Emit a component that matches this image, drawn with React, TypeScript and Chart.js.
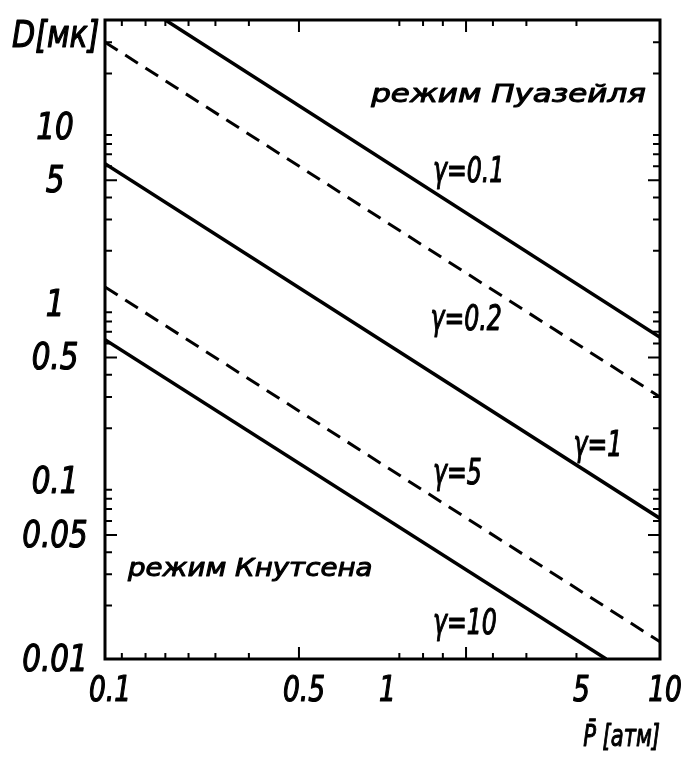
import { useEffect, useRef } from "react";
import { Chart, registerables } from "chart.js";

Chart.register(...registerables);

// Axis ranges (pressure in atm, diameter in microns)
const P_MIN = 0.1;
const P_MAX = 10;
const D_MIN = 0.01;
const D_MAX = 40;

// Labelled ticks
const pressureTicks = [0.1, 0.5, 1, 5, 10];
const diameterTicks = [0.01, 0.05, 0.1, 0.5, 1, 5, 10];

// Small tick marks along the frame
const pressureMarks = [0.115, 0.14, 0.165, 0.2, 0.25, 0.33, 0.5, 1.15, 1.4, 1.65, 2, 2.5, 3.3, 5];
const pressureLongMarks = [0.5, 2];
const diameterMarks = [
  0.02, 0.03, 0.04, 0.05, 0.06, 0.07, 0.08, 0.09,
  0.2, 0.3, 0.4, 0.5, 0.6, 0.7, 0.8, 0.9,
  2, 3, 4, 5, 6, 7, 8, 9,
  20, 30,
];
const diameterLongMarks = [0.05, 0.1, 0.5, 1, 5, 10];

// Boundary lines D(P) for each γ: end points of each straight segment
const gamma01P = [0.165, 10];
const gamma01D = [40, 0.65];
const gamma02P = [0.1, 10];
const gamma02D = [30, 0.3];
const gamma1P = [0.1, 10];
const gamma1D = [6.2, 0.062];
const gamma5P = [0.1, 10];
const gamma5D = [1.25, 0.0125];
const gamma10P = [0.1, 6.4];
const gamma10D = [0.63, 0.01];

// Curve captions: text, left edge (P), baseline (D)
const gammaLabels = ["γ=0.1", "γ=0.2", "γ=1", "γ=5", "γ=10"];
const gammaLabelP = [1.52, 1.49, 4.88, 1.52, 1.52];
const gammaLabelD = [4.9, 0.713, 0.14, 0.0975, 0.0138];

// Regime captions: text, left and right edge (P), baseline (D)
const regimeLabels = ["режим Пуазейля", "режим Кнутсена"];
const regimeLabelP0 = [0.91, 0.121];
const regimeLabelP1 = [8.9, 0.92];
const regimeLabelD = [13.8, 0.0294];

const HAND = "'Liberation Sans Narrow', 'DejaVu Sans Condensed', 'Liberation Sans', sans-serif";
const HAND_WIDE = "'DejaVu Sans', 'Liberation Sans', sans-serif";

const toPoints = (ps: number[], ds: number[]) => ps.map((p, i) => ({ x: p, y: ds[i] }));
const fmt = (v: number) => String(v);

// Draws pen-weight lettering, compressed or stretched horizontally by sx
function penText(ctx: CanvasRenderingContext2D, text: string, x: number, y: number, sx: number, weight = 0.9) {
  ctx.save();
  ctx.translate(x, y);
  ctx.scale(sx, 1);
  ctx.fillText(text, 0, 0);
  ctx.lineWidth = weight;
  ctx.lineJoin = "round";
  ctx.strokeText(text, 0, 0);
  ctx.restore();
}

const framePlugin = {
  id: "frameAndCaptions",
  afterDatasetsDraw(chart: any) {
    const { ctx, chartArea, scales } = chart;
    const { left, right, top, bottom } = chartArea;
    const xs = scales.x;
    const ys = scales.y;
    ctx.save();
    ctx.strokeStyle = "#000";
    ctx.fillStyle = "#000";

    // inward tick marks on all four sides
    ctx.lineWidth = 2;
    ctx.beginPath();
    for (const v of pressureMarks) {
      const px = xs.getPixelForValue(v);
      const len = pressureLongMarks.includes(v) ? 12 : 6;
      ctx.moveTo(px, bottom);
      ctx.lineTo(px, bottom - len);
      ctx.moveTo(px, top);
      ctx.lineTo(px, top + len);
    }
    for (const v of diameterMarks) {
      const py = ys.getPixelForValue(v);
      const len = diameterLongMarks.includes(v) ? 12 : 7;
      ctx.moveTo(left, py);
      ctx.lineTo(left + len, py);
      ctx.moveTo(right, py);
      ctx.lineTo(right - len, py);
    }
    ctx.stroke();

    // frame
    ctx.lineWidth = 3;
    ctx.strokeRect(left, top, right - left, bottom - top);

    // tick labels
    ctx.textAlign = "center";
    ctx.textBaseline = "middle";
    ctx.font = `italic 38px ${HAND}`;
    for (const t of ys.ticks) {
      penText(ctx, fmt(t.value), left - 50, ys.getPixelForValue(t.value) + 2, 0.86, 1.2);
    }
    ctx.font = `italic 35px ${HAND}`;
    for (const t of xs.ticks) {
      penText(ctx, fmt(t.value), xs.getPixelForValue(t.value) + 5, bottom + 33, 0.84, 1.2);
    }

    // γ captions
    ctx.font = `italic 35px ${HAND}`;
    ctx.textAlign = "left";
    ctx.textBaseline = "alphabetic";
    gammaLabels.forEach((t, i) => {
      penText(ctx, t, xs.getPixelForValue(gammaLabelP[i]), ys.getPixelForValue(gammaLabelD[i]), 0.75, 1.1);
    });

    // regime captions, stretched to their span
    ctx.font = `oblique 24px ${HAND_WIDE}`;
    regimeLabels.forEach((t, i) => {
      const x0 = xs.getPixelForValue(regimeLabelP0[i]);
      const x1 = xs.getPixelForValue(regimeLabelP1[i]);
      const y = ys.getPixelForValue(regimeLabelD[i]);
      const w = ctx.measureText(t).width;
      penText(ctx, t, x0, y, (x1 - x0) / w, 1);
    });

    // axis titles
    ctx.font = `italic 38px ${HAND}`;
    penText(ctx, "D[мк]", left - 93, top + 27, 0.88, 1.2);
    ctx.font = `italic 30px ${HAND}`;
    ctx.textAlign = "right";
    penText(ctx, "P\u0304 [атм]", right, bottom + 87, 0.78, 1);
    ctx.restore();
  },
};

export default function App() {
  const canvasRef = useRef<HTMLCanvasElement | null>(null);

  useEffect(() => {
    const canvas = canvasRef.current;
    if (!canvas) return;
    const solid = { borderColor: "#000", borderWidth: 3.5, pointRadius: 0, fill: false, tension: 0 };
    const dashed = { ...solid, borderWidth: 3, borderDash: [15, 9] };

    const chart = new Chart(canvas, {
      type: "line",
      data: {
        datasets: [
          { label: "γ=0.1", data: toPoints(gamma01P, gamma01D), ...solid },
          { label: "γ=0.2", data: toPoints(gamma02P, gamma02D), ...dashed },
          { label: "γ=1", data: toPoints(gamma1P, gamma1D), ...solid },
          { label: "γ=5", data: toPoints(gamma5P, gamma5D), ...dashed },
          { label: "γ=10", data: toPoints(gamma10P, gamma10D), ...solid },
        ],
      },
      options: {
        animation: false,
        responsive: false,
        devicePixelRatio: 1,
        parsing: false,
        layout: { padding: { top: 20, right: 23, left: 0, bottom: 0 } },
        plugins: { legend: { display: false }, tooltip: { enabled: false } },
        scales: {
          x: {
            type: "logarithmic",
            position: "bottom",
            min: P_MIN,
            max: P_MAX,
            grid: { display: false, drawTicks: false },
            border: { display: false },
            afterBuildTicks: (s: any) => {
              s.ticks = pressureTicks.map((v) => ({ value: v }));
            },
            afterFit: (s: any) => {
              s.height = 99;
              s.paddingLeft = 0;
              s.paddingRight = 0;
            },
            ticks: { display: false, autoSkip: false, callback: (v: any) => fmt(v) },
          },
          y: {
            type: "logarithmic",
            position: "left",
            min: D_MIN,
            max: D_MAX,
            grid: { display: false, drawTicks: false },
            border: { display: false },
            afterBuildTicks: (s: any) => {
              s.ticks = diameterTicks.map((v) => ({ value: v }));
            },
            afterFit: (s: any) => {
              s.width = 105;
              s.paddingTop = 0;
              s.paddingBottom = 0;
            },
            ticks: { display: false, autoSkip: false, callback: (v: any) => fmt(v) },
          },
        },
      } as any,
      plugins: [framePlugin],
    });
    return () => chart.destroy();
  }, []);

  return (
    <div style={{ position: "fixed", left: 0, top: 0, width: 683, height: 758, background: "#fff" }}>
      <canvas ref={canvasRef} width={683} height={758} />
    </div>
  );
}
